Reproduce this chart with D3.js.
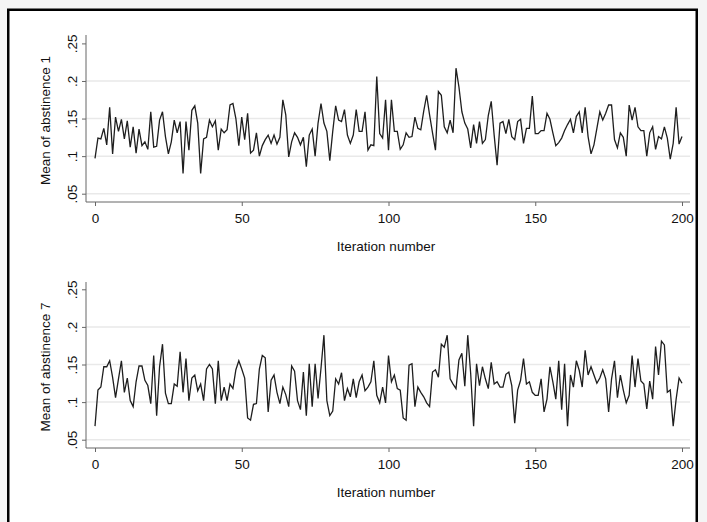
<!DOCTYPE html>
<html>
<head>
<meta charset="utf-8">
<script src="https://cdn.jsdelivr.net/npm/d3@7"></script>
<style>
  html, body { margin: 0; padding: 0; background: #f4f4f4; }
  text { font-family: "Liberation Sans", Arial, sans-serif; fill: #111; }
</style>
</head>
<body>
<div class="chart"></div>
<script>
// iteration index and tick labels
const iterations = d3.range(0, 201)
const xTicks = [0, 50, 100, 150, 200]
const yTicks = [0.05, 0.1, 0.15, 0.2, 0.25]
const yTickLabels = ['.05', '.1', '.15', '.2', '.25']
const titles = ['Mean of abstinence 1', 'Mean of abstinence 7']

// traces
const abst1 = [
  .097, .124, .123, .137, .115, .165, .103, .152, .133, .149,
  .123, .147, .112, .139, .104, .136, .114, .119, .109, .159,
  .112, .113, .148, .159, .126, .103, .119, .148, .131, .146,
  .077, .146, .108, .161, .167, .144, .077, .123, .125, .148,
  .139, .147, .108, .136, .131, .135, .168, .170, .150, .114,
  .152, .122, .157, .104, .108, .131, .100, .114, .122, .128,
  .117, .128, .116, .125, .175, .155, .099, .119, .131, .125,
  .115, .125, .086, .128, .136, .100, .144, .170, .144, .133,
  .094, .133, .167, .148, .146, .162, .128, .117, .128, .162,
  .133, .133, .159, .108, .115, .114, .206, .130, .124, .175,
  .108, .175, .133, .133, .109, .115, .131, .125, .126, .152,
  .137, .135, .160, .181, .155, .131, .108, .186, .181, .139,
  .131, .148, .131, .217, .192, .159, .144, .136, .111, .142,
  .117, .146, .117, .122, .154, .173, .128, .088, .144, .146,
  .130, .149, .126, .122, .146, .149, .117, .137, .137, .180,
  .130, .130, .134, .134, .157, .149, .131, .114, .118, .124,
  .134, .142, .149, .131, .153, .159, .131, .165, .126, .103,
  .115, .137, .159, .148, .157, .168, .168, .122, .111, .131,
  .125, .100, .168, .148, .165, .139, .134, .134, .100, .131,
  .139, .109, .126, .123, .139, .124, .096, .117, .165, .116,
  .126
]

const abst7 = [
  .068, .116, .120, .147, .147, .155, .133, .106, .131, .155,
  .113, .132, .102, .094, .127, .148, .148, .129, .122, .098,
  .162, .082, .147, .177, .112, .098, .098, .124, .121, .167,
  .113, .158, .102, .132, .136, .115, .124, .102, .144, .150,
  .144, .098, .155, .102, .120, .102, .124, .118, .143, .155,
  .144, .132, .079, .076, .097, .098, .144, .162, .159, .087,
  .129, .136, .113, .098, .120, .110, .094, .148, .141, .102,
  .090, .140, .082, .151, .094, .151, .105, .145, .189, .102,
  .082, .088, .131, .124, .139, .102, .118, .107, .131, .106,
  .127, .136, .115, .120, .127, .155, .109, .099, .120, .099,
  .162, .127, .136, .118, .116, .079, .076, .149, .151, .094,
  .120, .113, .107, .099, .094, .140, .143, .133, .177, .173,
  .189, .131, .124, .118, .156, .165, .121, .189, .138, .068,
  .151, .122, .147, .131, .118, .153, .124, .127, .120, .120,
  .137, .140, .122, .072, .116, .129, .158, .124, .127, .113,
  .109, .109, .131, .087, .104, .147, .127, .104, .155, .090,
  .151, .068, .136, .120, .155, .142, .120, .169, .136, .147,
  .136, .125, .132, .143, .131, .087, .131, .155, .106, .136,
  .116, .099, .109, .162, .120, .158, .128, .124, .091, .128,
  .104, .174, .136, .181, .176, .113, .116, .068, .104, .132,
  .125
]

const series = [abst1, abst7]

const width = 707
const height = 522

const svg = d3.select('.chart')
  .append('svg')
  .attr('width', width)
  .attr('height', height)

// white graph area with black frame
svg.append('rect')
  .attr('x', 8.25)
  .attr('y', 9.75)
  .attr('width', 688.5)
  .attr('height', 600)
  .attr('fill', '#fff')
  .attr('stroke', '#000')
  .attr('stroke-width', 2.5)

const x = d3.scaleLinear().domain([0, 200]).range([95, 682])
const axisLeftX = 86
const axisRightX = 690

// one panel per series, laid out top to bottom
const panels = [
  { yLow: 193.7, yHigh: 43.4, axisTop: 35, axisBottom: 202 },
  { yLow: 439.7, yHigh: 289.3, axisTop: 282, axisBottom: 448 }
]

panels.forEach((p, k) => {
  const y = d3.scaleLinear().domain([0.05, 0.25]).range([p.yLow, p.yHigh])
  const g = svg.append('g')

  // gridlines (none on the top tick)
  g.selectAll('line.grid')
    .data(yTicks.filter(t => t < 0.25))
    .enter()
    .append('line')
    .attr('class', 'grid')
    .attr('x1', axisLeftX)
    .attr('x2', axisRightX)
    .attr('y1', d => y(d))
    .attr('y2', d => y(d))
    .attr('stroke', '#e9e9e9')
    .attr('stroke-width', 1.5)

  // y axis
  const yAxisGroup = g.append('g')
    .attr('transform', `translate(${axisLeftX}, 0)`)
    .call(d3.axisLeft(y).tickValues(yTicks)
      .tickFormat((d, i) => yTickLabels[i])
      .tickSize(4).tickSizeOuter(0))
  yAxisGroup.select('.domain').remove()
  yAxisGroup.selectAll('line').attr('stroke', '#666')
  yAxisGroup.selectAll('text')
    .attr('transform', 'rotate(-90)')
    .attr('x', 0)
    .attr('y', -9)
    .attr('dy', 0)
    .attr('text-anchor', 'middle')
    .style('font-size', '13.5px')
    .attr('fill', '#111')

  g.append('line')
    .attr('x1', axisLeftX).attr('x2', axisLeftX)
    .attr('y1', p.axisTop).attr('y2', p.axisBottom)
    .attr('stroke', '#666')

  // x axis
  const xAxisGroup = g.append('g')
    .attr('transform', `translate(0, ${p.axisBottom})`)
    .call(d3.axisBottom(x).tickValues(xTicks)
      .tickSize(4).tickSizeOuter(0).tickPadding(7))
  xAxisGroup.select('.domain').remove()
  xAxisGroup.selectAll('line').attr('stroke', '#666')
  xAxisGroup.selectAll('text')
    .style('font-size', '13.5px')
    .attr('fill', '#111')

  g.append('line')
    .attr('x1', axisLeftX).attr('x2', axisRightX)
    .attr('y1', p.axisBottom).attr('y2', p.axisBottom)
    .attr('stroke', '#666')

  // axis titles
  g.append('text')
    .attr('transform', `translate(50, ${(p.axisTop + p.axisBottom) / 2 + 2}) rotate(-90)`)
    .attr('text-anchor', 'middle')
    .style('font-size', '13.5px')
    .text(titles[k])

  g.append('text')
    .attr('x', (axisLeftX + axisRightX) / 2 - 2)
    .attr('y', p.axisBottom + 49)
    .attr('text-anchor', 'middle')
    .style('font-size', '13.5px')
    .text('Iteration number')

  // trace
  const line = d3.line()
    .x((d, i) => x(iterations[i]))
    .y(d => y(d))

  g.append('path')
    .datum(series[k])
    .attr('d', line)
    .attr('fill', 'none')
    .attr('stroke', '#1e1e1e')
    .attr('stroke-width', 1.3)
    .attr('stroke-linejoin', 'miter')
})
</script>
</body>
</html>
